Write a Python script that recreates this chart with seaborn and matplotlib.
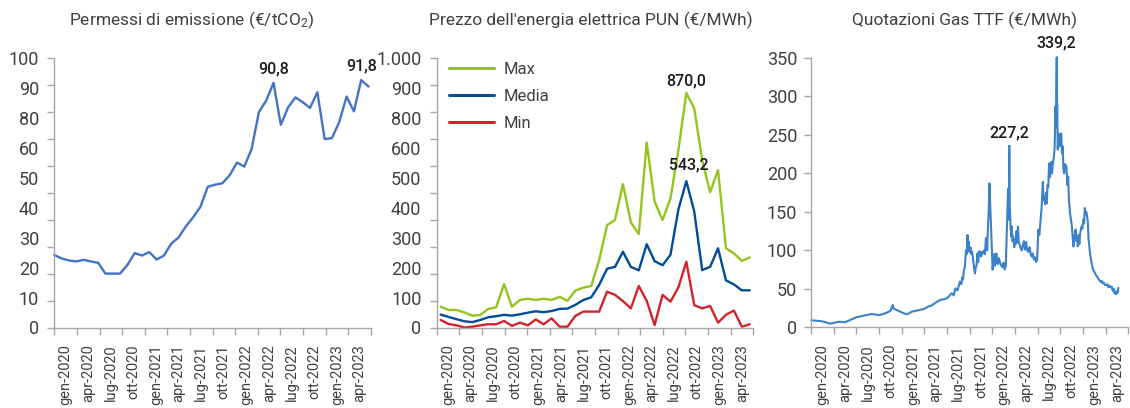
import numpy as np
import pandas as pd
import matplotlib
matplotlib.use("Agg")
import matplotlib.pyplot as plt
import matplotlib.dates as mdates
import seaborn as sns

# ---------------- data ----------------
quarter_labels = ["gen-2020", "apr-2020", "lug-2020", "ott-2020",
                  "gen-2021", "apr-2021", "lug-2021", "ott-2021",
                  "gen-2022", "apr-2022", "lug-2022", "ott-2022",
                  "gen-2023", "apr-2023"]

# Permessi di emissione (EUR/tCO2)
eua_values = [26.9, 25.6, 24.9, 24.5, 25.1, 24.5, 24.0, 20.0, 20.0, 20.0,
              23.2, 27.6, 26.7, 28.0, 25.2, 26.7, 31.1, 33.4, 37.5, 40.9,
              44.8, 52.2, 53.0, 53.5, 56.5, 61.2, 59.7, 66.2, 79.9, 84.2,
              90.8, 75.2, 81.7, 85.4, 83.6, 81.5, 87.3, 69.9, 70.3, 76.3,
              85.7, 80.2, 91.8, 89.4]
eua_ylabels = ["0", "10", "20", "30", "40", "50", "60", "80", "90", "100"]

# PUN (EUR/MWh), monthly gen-2020 .. apr-2023
pun_max = [77, 65, 65, 56, 44, 46, 69, 75, 161, 77,
           102, 107, 102, 107, 102, 114, 99, 137, 148, 154,
           250, 380, 399, 532, 390, 347, 686, 467, 399, 479,
           659, 870.0, 813, 621, 502, 584, 294, 275, 247, 260]
pun_media = [48, 39, 31, 23, 20, 28, 38, 42, 47, 44,
             49, 55, 60, 57, 61, 69, 70, 84, 102, 112,
             158, 218, 225, 281, 225, 212, 309, 246, 231, 270,
             438, 543.2, 430, 213, 225, 294, 175, 160, 138, 138]
pun_min = [28, 13, 8, 0, 3, 8, 12, 12, 24, 6,
           18, 8, 30, 12, 34, 3, 3, 43, 59, 59,
           59, 133, 121, 98, 71, 154, 99, 9, 121, 96,
           149, 244, 83, 71, 80, 18, 47, 63, 3, 12]
pun_ylabels = ["0", "100", "200", "300", "400", "500", "600", "800", "900", "1.000"]

# Gas TTF (EUR/MWh) - rows of five readings
ttf_dates = [
    "2020-01-02", "2020-01-22", "2020-02-10", "2020-02-25", "2020-03-10",
    "2020-03-19", "2020-04-07", "2020-04-25", "2020-05-16", "2020-06-07",
    "2020-07-01", "2020-07-22", "2020-08-13", "2020-09-01", "2020-09-19",
    "2020-10-04", "2020-10-19", "2020-11-01", "2020-11-16", "2020-11-25",
    "2020-11-28", "2020-12-04", "2020-12-25", "2021-01-10", "2021-01-22",
    "2021-02-10", "2021-03-13", "2021-04-01", "2021-04-16", "2021-05-01",
    "2021-05-16", "2021-06-04", "2021-06-19", "2021-07-01", "2021-07-10",
    "2021-07-19", "2021-07-28", "2021-08-04", "2021-08-13", "2021-08-22",
    "2021-08-28", "2021-09-01", "2021-09-04", "2021-09-07", "2021-09-11",
    "2021-09-16", "2021-09-19", "2021-09-22", "2021-09-24", "2021-09-26",
    "2021-09-29", "2021-10-01", "2021-10-04", "2021-10-07", "2021-10-10",
    "2021-10-13", "2021-10-16", "2021-10-19", "2021-10-22", "2021-10-25",
    "2021-10-28", "2021-11-01", "2021-11-04", "2021-11-08", "2021-11-13",
    "2021-11-16", "2021-11-19", "2021-11-23", "2021-11-27", "2021-12-01",
    "2021-12-05", "2021-12-10", "2021-12-13", "2021-12-16", "2021-12-19",
    "2021-12-21", "2021-12-22", "2021-12-25", "2021-12-28", "2022-01-01",
    "2022-01-04", "2022-01-07", "2022-01-11", "2022-01-16", "2022-01-19",
    "2022-01-22", "2022-01-26", "2022-02-01", "2022-02-05", "2022-02-10",
    "2022-02-14", "2022-02-19", "2022-02-23", "2022-02-28", "2022-03-04",
    "2022-03-07", "2022-03-09", "2022-03-11", "2022-03-14", "2022-03-17",
    "2022-03-19", "2022-03-22", "2022-03-25", "2022-03-29", "2022-04-01",
    "2022-04-04", "2022-04-07", "2022-04-10", "2022-04-13", "2022-04-16",
    "2022-04-19", "2022-04-23", "2022-04-28", "2022-05-02", "2022-05-07",
    "2022-05-11", "2022-05-16", "2022-05-20", "2022-05-25", "2022-05-30",
    "2022-06-03", "2022-06-07", "2022-06-11", "2022-06-16", "2022-06-20",
    "2022-06-25", "2022-06-29", "2022-07-04", "2022-07-08", "2022-07-13",
    "2022-07-17", "2022-07-22", "2022-07-25", "2022-07-28", "2022-08-01",
    "2022-08-04", "2022-08-07", "2022-08-10", "2022-08-13", "2022-08-16",
    "2022-08-19", "2022-08-22", "2022-08-25", "2022-08-28", "2022-09-01",
    "2022-09-04", "2022-09-07", "2022-09-09", "2022-09-11", "2022-09-13",
    "2022-09-14", "2022-09-16", "2022-09-17", "2022-09-18", "2022-09-20",
    "2022-09-23", "2022-09-26", "2022-10-01", "2022-10-04", "2022-10-07",
    "2022-10-10", "2022-10-13", "2022-10-16", "2022-10-19", "2022-10-25",
    "2022-10-29", "2022-11-01", "2022-11-04", "2022-11-08", "2022-11-12",
    "2022-11-16", "2022-11-19", "2022-11-22", "2022-11-26", "2022-12-01",
    "2022-12-04", "2022-12-07", "2022-12-10", "2022-12-13", "2022-12-16",
    "2022-12-19", "2022-12-25", "2022-12-28", "2023-01-01", "2023-01-04",
    "2023-01-07", "2023-01-10", "2023-01-13", "2023-01-16", "2023-01-19",
    "2023-01-22", "2023-01-25", "2023-01-28", "2023-02-01", "2023-02-04",
    "2023-02-07", "2023-02-10", "2023-02-14", "2023-02-18", "2023-02-22",
    "2023-02-25", "2023-03-01", "2023-03-05", "2023-03-09", "2023-03-13",
    "2023-03-17", "2023-03-21", "2023-03-25", "2023-03-29", "2023-04-04",
    "2023-04-08", "2023-04-12", "2023-04-16", "2023-04-20", "2023-04-25",
    "2023-04-28", "2023-05-01", "2023-05-04", "2023-05-07", "2023-05-10",
    "2023-05-13", "2023-05-16", "2023-05-19", "2023-05-22"]
ttf_values = [
    9.1, 8.6, 8.0, 7.0, 5.5,
    4.7, 6.2, 7.3, 6.5, 9.5,
    13.0, 14.5, 16.0, 17.3, 16.4,
    16.0, 17.5, 19.0, 21.5, 29.0,
    24.5, 23.4, 20.3, 18.0, 16.9,
    20.3, 22.5, 24.0, 26.8, 28.5,
    32.0, 35.5, 36.5, 37.7, 40.5,
    44.2, 41.5, 50.7, 48.0, 59.3,
    56.0, 65.0, 62.0, 74.5, 78.0,
    100.6, 95.0, 120.0, 102.0, 112.0,
    98.0, 100.0, 104.0, 95.0, 99.0,
    92.0, 84.0, 75.0, 70.0, 78.0,
    80.0, 96.0, 85.0, 99.0, 97.0,
    92.0, 98.0, 96.0, 100.0, 95.0,
    116.0, 100.0, 128.0, 149.0, 187.0,
    170.0, 160.0, 137.0, 111.0, 75.0,
    88.0, 95.0, 80.0, 96.0, 84.0,
    82.0, 90.0, 83.0, 80.0, 78.0,
    84.0, 75.0, 80.0, 137.0, 180.0,
    140.0, 236.0, 160.0, 131.0, 118.0,
    131.0, 112.0, 118.0, 104.0, 114.0,
    108.0, 125.0, 110.0, 131.0, 112.0,
    108.0, 104.0, 100.0, 106.0, 112.0,
    101.0, 111.0, 100.0, 98.0, 104.0,
    95.0, 92.0, 96.0, 88.0, 91.0,
    85.0, 88.0, 127.0, 120.0, 140.0,
    155.0, 189.0, 165.0, 170.0, 160.0,
    175.0, 161.0, 185.0, 182.0, 213.0,
    195.0, 200.0, 215.0, 200.0, 214.0,
    220.0, 231.0, 250.0, 287.0, 260.0,
    300.0, 351.0, 280.0, 290.0, 231.0,
    252.0, 235.0, 240.0, 252.0, 226.0,
    235.0, 205.0, 200.0, 212.0, 209.0,
    185.0, 196.0, 166.0, 150.0, 140.0,
    131.0, 118.0, 105.0, 118.0, 127.0,
    112.0, 118.0, 105.0, 120.0, 108.0,
    122.0, 131.0, 128.0, 140.0, 135.0,
    155.0, 148.0, 150.0, 144.0, 138.0,
    115.0, 105.0, 96.0, 88.0, 82.0,
    78.0, 75.0, 72.0, 70.0, 67.0,
    66.0, 64.0, 62.0, 60.0, 59.0,
    60.0, 57.0, 58.0, 55.0, 55.0,
    56.0, 52.0, 54.0, 52.0, 53.0,
    49.0, 47.0, 50.0, 44.0, 46.0,
    43.0, 47.0, 45.0, 51.0]
ttf_yticks = [0, 50, 100, 150, 200, 250, 300, 350]

# ---------------- style ----------------
sns.set_theme(style="white")
plt.rcParams["font.family"] = ["Roboto", "DejaVu Sans"]
plt.rcParams["mathtext.fontset"] = "custom"
plt.rcParams["mathtext.rm"] = "Roboto"
plt.rcParams["mathtext.it"] = "Roboto:italic"
plt.rcParams["mathtext.bf"] = "Roboto:bold"

AX_COL = "#a6a6a6"
TXT = "#404040"
ANN = "#1a1a1a"

W, H = 1130, 408
fig = plt.figure(figsize=(W / 100, H / 100), dpi=100)
fig.patch.set_facecolor("white")


def axes_px(x0, x1, y0, y1):
    return fig.add_axes([x0 / W, 1 - y1 / H, (x1 - x0) / W, (y1 - y0) / H])


ax1 = axes_px(54.3, 370.7, 58, 327.5)
ax2 = axes_px(436.7, 753.3, 58, 327.5)
ax3 = axes_px(811, 1128.3, 58, 327.3)


def style(ax):
    for s in ["top", "right"]:
        ax.spines[s].set_visible(False)
    for s in ["left", "bottom"]:
        ax.spines[s].set_color(AX_COL)
        ax.spines[s].set_linewidth(1.0)
    ax.set_facecolor("white")
    ax.grid(False)
    ax.xaxis.remove_overlapping_locs = False
    ax.yaxis.remove_overlapping_locs = False


def set_xq(ax, lo, hi):
    edges = np.linspace(lo, hi, 15)
    mids = (edges[:-1] + edges[1:]) / 2
    ax.set_xticks(edges)
    ax.set_xticklabels([""] * len(edges))
    ax.set_xticks(mids, minor=True)
    ax.set_xticklabels(quarter_labels, minor=True, rotation=90,
                       ha="center", va="top", fontsize=10.5, color=TXT)
    ax.tick_params(axis="x", which="major", direction="out", length=5,
                   width=1, color=AX_COL, bottom=True)
    ax.tick_params(axis="x", which="minor", length=0, pad=12, bottom=True)
    ax.set_xlim(lo, hi)
    ax.set_xlabel("")


def set_y_odd(ax, top, labels):
    ax.set_ylim(0, top)
    ax.set_yticks(np.linspace(0, top, 11))
    ax.set_yticklabels([""] * 11)
    ax.set_yticks(np.linspace(0, top, len(labels)), minor=True)
    ax.set_yticklabels(labels, minor=True, fontsize=13, color=TXT)
    ax.tick_params(axis="y", which="major", direction="out", length=5,
                   width=1, color=AX_COL, left=True)
    ax.tick_params(axis="y", which="minor", length=0, pad=11, left=True)
    ax.set_ylabel("")


# ---- panel 1: EUA ----
style(ax1)
eua_df = pd.DataFrame({"idx": np.arange(len(eua_values)), "val": eua_values})
sns.lineplot(data=eua_df, x="idx", y="val", ax=ax1, color="#4472c4",
             linewidth=1.7, clip_on=False)
set_xq(ax1, 0, 43.3)
set_y_odd(ax1, 100, eua_ylabels)
for i in [30, 42]:
    ax1.annotate(f"{eua_values[i]:.1f}".replace(".", ","), xy=(i, eua_values[i]),
                 xytext=(0, 10), textcoords="offset points", ha="center",
                 va="center", fontsize=11.5, fontweight="medium", color=ANN,
                 annotation_clip=False)

# ---- panel 2: PUN ----
style(ax2)
n = len(pun_max)
pun_df = pd.DataFrame({
    "idx": np.tile(np.arange(n), 3),
    "val": pun_max + pun_media + pun_min,
    "serie": ["Max"] * n + ["Media"] * n + ["Min"] * n,
})
sns.lineplot(data=pun_df, x="idx", y="val", hue="serie",
             hue_order=["Max", "Media", "Min"],
             palette={"Max": "#92c41e", "Media": "#004c97", "Min": "#d1232e"},
             ax=ax2, linewidth=1.7)
set_xq(ax2, -0.5, 39.45)
set_y_odd(ax2, 1000, pun_ylabels)
handles, labels = ax2.get_legend_handles_labels()
leg = ax2.legend(handles, labels, loc="upper left",
                 bbox_to_anchor=((449 - 436.7) / 316.6, (327.5 - 62) / 269.5),
                 frameon=False, fontsize=12, handlelength=2.7,
                 handletextpad=0.55, labelspacing=0.72, borderaxespad=0,
                 borderpad=0)
for t in leg.get_texts():
    t.set_color(TXT)
for lh in leg.get_lines():
    lh.set_linewidth(2.2)
imax = int(np.argmax(pun_max))
ax2.annotate("870,0", xy=(imax, pun_max[imax]), xytext=(0, 9),
             textcoords="offset points", ha="center", va="center",
             fontsize=11.5, fontweight="medium", color=ANN, annotation_clip=False)
imed = int(np.argmax(pun_media))
ax2.annotate("543,2", xy=(imed, pun_media[imed]), xytext=(1.5, 11.5),
             textcoords="offset points", ha="center", va="center",
             fontsize=11.5, fontweight="medium", color=ANN, annotation_clip=False)

# ---- panel 3: TTF ----
style(ax3)
ttf_df = pd.DataFrame({"date": pd.to_datetime(ttf_dates), "val": ttf_values})
sns.lineplot(data=ttf_df, x="date", y="val", ax=ax3, color="#3b82c8",
             linewidth=1.5, clip_on=False)
lo = mdates.date2num(pd.Timestamp("2020-01-01"))
hi = mdates.date2num(pd.Timestamp("2023-07-01"))
set_xq(ax3, lo, hi)
ax3.set_ylim(0, 350)
ax3.set_yticks(ttf_yticks)
ax3.set_yticklabels([str(v) for v in ttf_yticks], fontsize=13, color=TXT)
ax3.tick_params(axis="y", which="major", direction="out", length=5, width=1,
                color=AX_COL, left=True, pad=5)
ax3.set_ylabel("")
i1 = ttf_dates.index("2022-03-09")
i2 = int(np.argmax(ttf_values))
for i, txt, off in [(i1, "227,2", 9), (i2, "339,2", 10)]:
    ax3.annotate(txt, xy=(mdates.date2num(pd.Timestamp(ttf_dates[i])), ttf_values[i]),
                 xytext=(0, off), textcoords="offset points", ha="center",
                 va="center", fontsize=11.5, fontweight="medium", color=ANN,
                 annotation_clip=False)

# ---- titles ----
fig.text(192 / W, 1 - 20 / H, r"Permessi di emissione (€/tCO$_{\mathregular{2}}$)",
         ha="center", va="center", fontsize=12.5, color=TXT)
fig.text(591 / W, 1 - 20 / H, "Prezzo dell'energia elettrica PUN (€/MWh)",
         ha="center", va="center", fontsize=12.5, color=TXT)
fig.text(965 / W, 1 - 20 / H, "Quotazioni Gas TTF (€/MWh)",
         ha="center", va="center", fontsize=12.5, color=TXT)

fig.savefig("out.png", dpi=100, facecolor="white")
